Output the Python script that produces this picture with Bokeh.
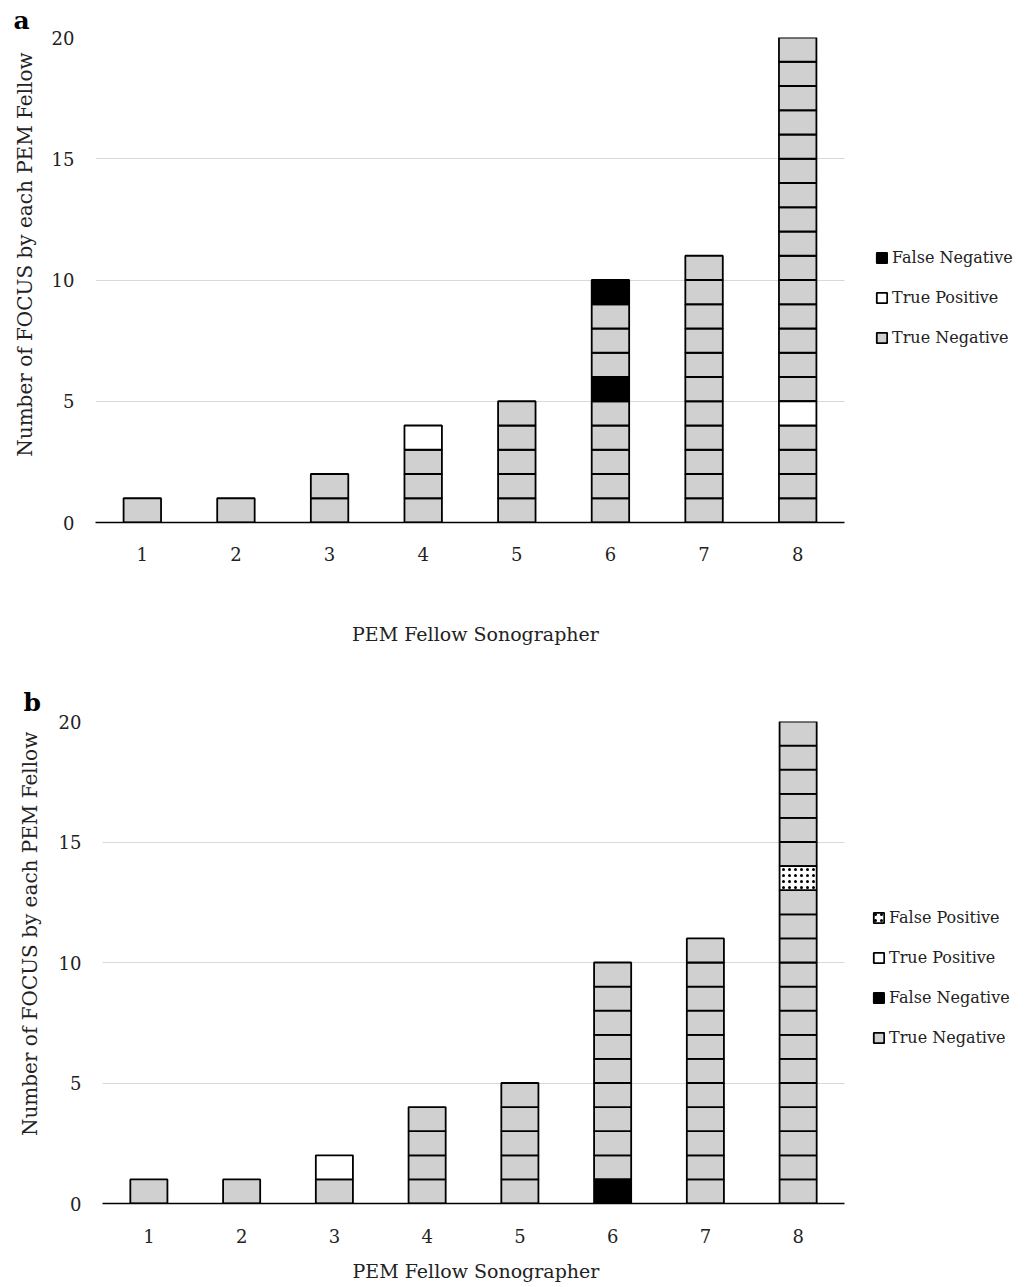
from bokeh.plotting import figure
from bokeh.models import Range1d, FixedTicker, Legend, LegendItem, Title, ColumnDataSource
from bokeh.layouts import column
from bokeh.embed import file_html
from bokeh.resources import INLINE

# ---------------- data ----------------
fellows = [1, 2, 3, 4, 5, 6, 7, 8]
y_ticks = [0, 5, 10, 15, 20]

# stacked unit scans per fellow, bottom to top, as (outcome, count) runs
stacks_a = [
    [("TN", 1)],
    [("TN", 1)],
    [("TN", 2)],
    [("TN", 3), ("TP", 1)],
    [("TN", 5)],
    [("TN", 5), ("FN", 1), ("TN", 3), ("FN", 1)],
    [("TN", 11)],
    [("TN", 4), ("TP", 1), ("TN", 15)],
]
stacks_b = [
    [("TN", 1)],
    [("TN", 1)],
    [("TN", 1), ("TP", 1)],
    [("TN", 4)],
    [("TN", 5)],
    [("FN", 1), ("TN", 9)],
    [("TN", 11)],
    [("TN", 13), ("FP", 1), ("TN", 6)],
]
outcome_names = {"TN": "True Negative", "FN": "False Negative",
                 "TP": "True Positive", "FP": "False Positive"}
legend_order_a = ["FN", "TP", "TN"]
legend_order_b = ["FP", "TP", "FN", "TN"]

x_title = "PEM Fellow Sonographer"
y_title = "Number of FOCUS by each PEM Fellow"

# ---------------- styles ----------------
FONT = "DejaVu Serif"
FILL = {"TN": "#d0d0d0", "FN": "#000000", "TP": "#ffffff", "FP": "#ffffff"}
HATCH = {"FP": "dot"}
FIG_W = 1018
NBSP = "\u00a0"


def blocks(stacks):
    out = {k: dict(x=[], bottom=[], top=[]) for k in outcome_names}
    for f, runs in zip(fellows, stacks):
        level = 0
        for kind, n in runs:
            for _ in range(n):
                out[kind]["x"].append(f)
                out[kind]["bottom"].append(level)
                out[kind]["top"].append(level + 1)
                level += 1
    return out


def panel(stacks, order, letter, bl, bt, frame_h, bb, plot_w, tick_std, ylab_std,
          ylab_pad, xtick_std, xlab_std, xlab_pad, letter_off, letter_std, leg_loc):
    br = 0
    frame_w = FIG_W - bl - br
    x_lo, x_hi = 0.5, 8.5
    x_end = x_lo + (x_hi - x_lo) * frame_w / plot_w
    p = figure(width=FIG_W, height=bt + frame_h + bb, x_range=Range1d(x_lo, x_end),
               y_range=Range1d(0, 20), output_backend="svg",
               toolbar_location=None, min_border_left=bl, min_border_right=br,
               min_border_top=bt, min_border_bottom=bb)
    p.outline_line_color = None
    p.background_fill_color = "white"
    p.border_fill_color = "white"
    p.xgrid.grid_line_color = None
    p.ygrid.ticker = FixedTicker(ticks=y_ticks)
    p.ygrid.grid_line_color = "#d9d9d9"
    p.ygrid.grid_line_width = 1
    p.ygrid.cross_bounds = (x_lo, x_hi)

    data = blocks(stacks)
    rends = {}
    for kind in ["TN", "FN", "TP", "FP"]:
        src = ColumnDataSource(data[kind])
        kw = {}
        if kind in HATCH:
            kw = dict(hatch_pattern=HATCH[kind], hatch_color="black",
                      hatch_scale=6, hatch_weight=4)
        rends[kind] = p.vbar(x="x", bottom="bottom", top="top", width=0.4,
                             source=src, fill_color=FILL[kind],
                             line_color="black", line_width=1.8, **kw)

    xa = p.xaxis[0]
    xa.ticker = FixedTicker(ticks=fellows)
    xa.bounds = (x_lo, x_hi)
    xa.axis_line_color = "black"
    xa.axis_line_width = 1.5
    xa.major_tick_line_color = None
    xa.minor_tick_line_color = None
    xa.major_tick_out = 0
    xa.major_tick_in = 0
    xa.major_label_standoff = xtick_std
    xa.major_label_text_font = FONT
    xa.major_label_text_font_size = "18px"
    xa.major_label_text_color = "#222222"
    xa.axis_label = x_title + NBSP * xlab_pad
    xa.axis_label_text_font = FONT
    xa.axis_label_text_font_size = "19px"
    xa.axis_label_text_font_style = "normal"
    xa.axis_label_text_color = "#222222"
    xa.axis_label_standoff = xlab_std

    ya = p.yaxis[0]
    ya.ticker = FixedTicker(ticks=y_ticks)
    ya.axis_line_color = None
    ya.major_tick_line_color = None
    ya.minor_tick_line_color = None
    ya.major_tick_out = 0
    ya.major_tick_in = 0
    ya.major_label_standoff = tick_std
    ya.major_label_text_font = FONT
    ya.major_label_text_font_size = "18px"
    ya.major_label_text_color = "#222222"
    ya.axis_label = NBSP * ylab_pad + y_title
    ya.axis_label_text_font = FONT
    ya.axis_label_text_font_size = "20px"
    ya.axis_label_text_font_style = "normal"
    ya.axis_label_text_color = "#222222"
    ya.axis_label_standoff = ylab_std

    items = [LegendItem(label=outcome_names[k], renderers=[rends[k]]) for k in order]
    leg = Legend(items=items, location=leg_loc, padding=0, margin=0,
                 border_line_color=None, background_fill_alpha=0,
                 glyph_width=13, glyph_height=13, label_height=20,
                 spacing=20, label_standoff=4,
                 label_text_font=FONT, label_text_font_size="16px",
                 label_text_color="#222222")
    p.add_layout(leg, "center")

    p.add_layout(Title(text=letter, align="left", offset=letter_off,
                       standoff=letter_std, text_font=FONT, text_font_style="bold",
                       text_font_size="25px", text_color="black"), "above")
    return p


pa = panel(stacks_a, legend_order_a, "a", 95, 37, 485, 128, 749, 21, 12, 8,
           24, 59, 27, -82, 6, (780, 175))
pb = panel(stacks_b, legend_order_b, "b", 102, 71, 482, 82, 742, 21, 14, 9,
           25, 14, 28, -79, 9, (770, 156))

layout = column(column(pa), column(pb), spacing=0)
open("out.html", "w").write(file_html(layout, INLINE))
